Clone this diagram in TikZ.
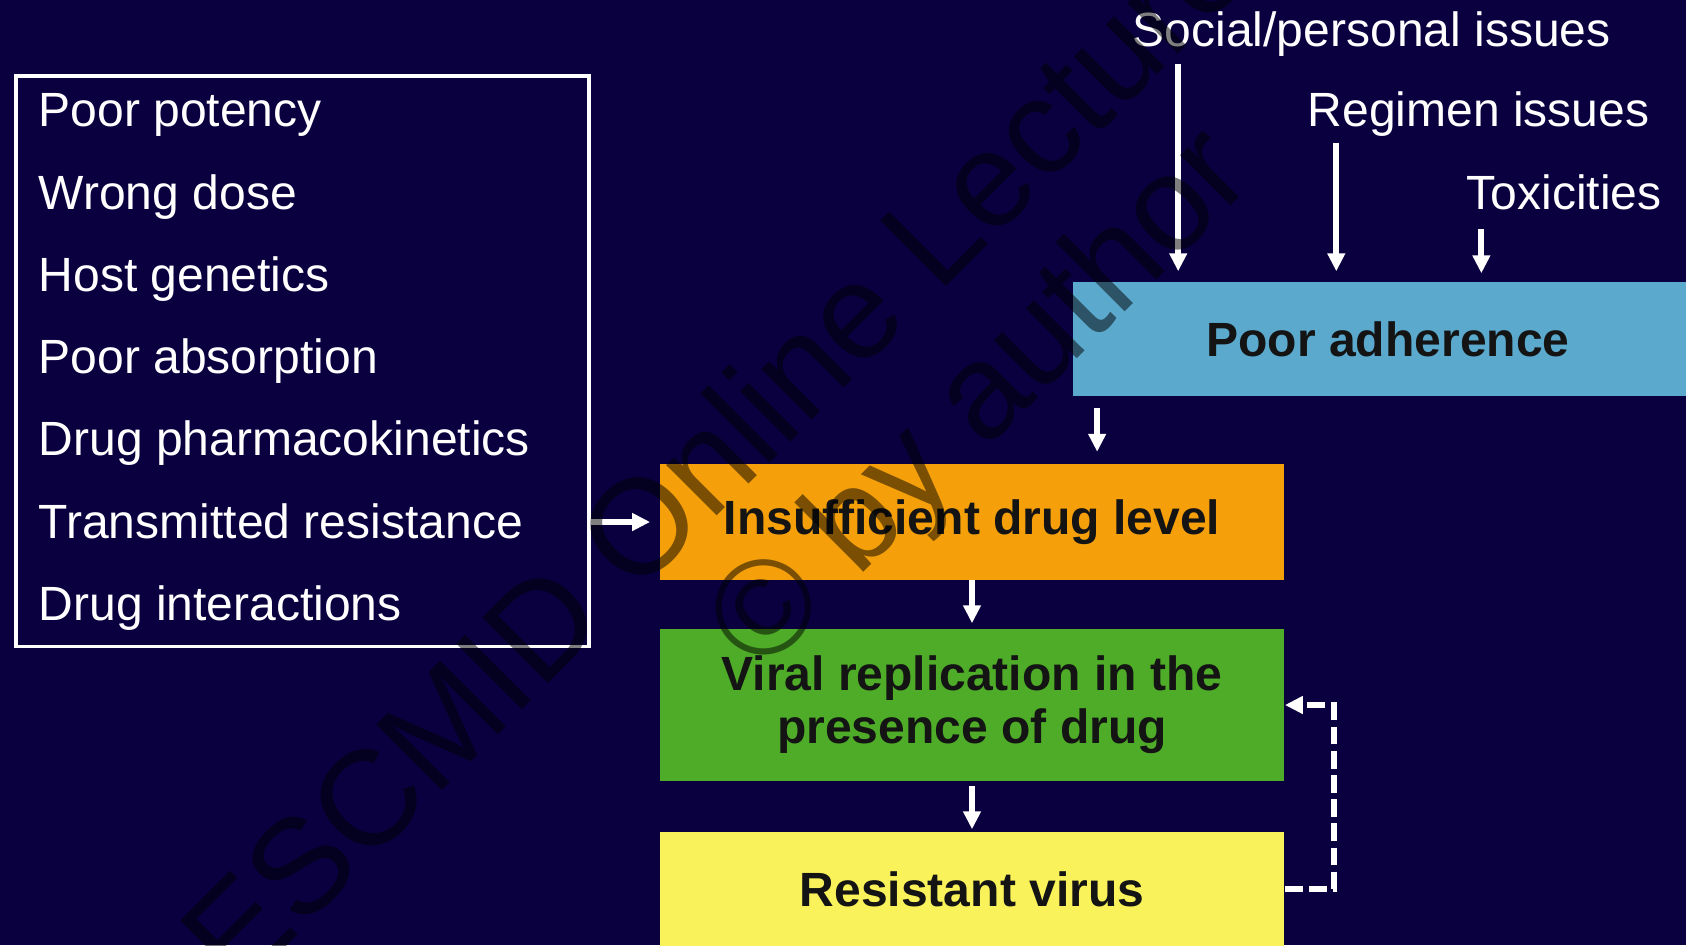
\documentclass[tikz,border=0pt]{standalone}
\usepackage{fontspec}
\setmainfont{Liberation Sans}
\usetikzlibrary{arrows.meta}

\definecolor{slidebg}{RGB}{10,0,64}
\definecolor{adhblue}{RGB}{91,170,206}
\definecolor{lvlorange}{RGB}{245,160,10}
\definecolor{repgreen}{RGB}{78,172,40}
\definecolor{resyellow}{RGB}{249,242,90}
\definecolor{ink}{RGB}{20,20,20}

\newcommand{\slidefont}{\fontsize{13.66pt}{15.1pt}\selectfont}
\newcommand{\markfont}{\fontsize{38.4pt}{41pt}\selectfont}

\tikzset{
  cause/.style={anchor=base west, inner sep=0pt, text=white, font=\slidefont},
  stage/.style={inner sep=0pt, minimum width=6.24cm, align=center, text=ink, font=\slidefont\bfseries},
  arr/.style={draw=white, line width=.06cm, -{Triangle[length=.18cm,width=.17cm]}},
}

\begin{document}
\begin{tikzpicture}[x=0.01cm,y=-0.01cm]
  \useasboundingbox (0,0) rectangle (1686,945);
  \clip (0,0) rectangle (1686,945);
  \fill[slidebg] (0,0) rectangle (1686,945);

  % causes of a low drug level
  \node[draw=white, line width=.035cm, minimum width=5.73cm, minimum height=5.705cm, inner sep=0pt] (causes) at (302.5,361.25) {};
  \node[cause] (c1) at (38,126.7) {Poor potency};
  \node[cause] (c2) at (38,209.0) {Wrong dose};
  \node[cause] (c3) at (38,291.3) {Host genetics};
  \node[cause] (c4) at (38,373.6) {Poor absorption};
  \node[cause] (c5) at (38,455.9) {Drug pharmacokinetics};
  \node[cause] (c6) at (38,538.2) {Transmitted resistance};
  \node[cause] (c7) at (38,620.5) {Drug interactions};

  % what drives poor adherence
  \node[cause] (social) at (1132,46.7) {Social/personal issues};
  \node[cause] (regimen) at (1307,126.7) {Regimen issues};
  \node[cause] (tox) at (1466,209) {Toxicities};

  % the chain
  \node[stage, fill=adhblue, minimum width=6.30cm, minimum height=1.14cm] (adh) at (1388,339) {Poor adherence};
  \node[stage, fill=lvlorange, minimum height=1.15cm] (ins) at (972,522) {Insufficient drug level};
  \node[stage, fill=repgreen, minimum height=1.52cm] (vir) at (972,705) {Viral replication in the\\presence of drug};
  \node[stage, fill=resyellow, minimum height=1.14cm] (res) at (972,889) {Resistant virus};

  \coordinate (t1) at ([xshift=1.06cm]adh.north west);
  \coordinate (t2) at ([xshift=2.64cm]adh.north west);
  \coordinate (t3) at ([xshift=4.09cm]adh.north west);
  \coordinate (a1) at ([xshift=.25cm]adh.south west);

  \draw[arr, shorten <=.07cm, shorten >=.1cm] (social.south -| t1) -- (t1);
  \draw[arr, shorten <=.06cm, shorten >=.1cm] (regimen.south -| t2) -- (t2);
  \draw[arr, shorten <=.19cm, shorten >=.08cm] (tox.south -| t3) -- (t3);
  \draw[arr, shorten <=.115cm, shorten >=.12cm] (a1) -- (a1 |- ins.north);
  \draw[arr, shorten >=.05cm] (ins) -- (vir);
  \draw[arr, shorten <=.04cm, shorten >=.02cm] (vir) -- (res);
  \draw[arr, shorten >=.09cm] (ins.west -| causes.east) -- (ins.west);
  \draw[arr, dash pattern=on .177cm off .065cm] (res.east) -| ([xshift=.49cm]vir.east) -- (vir.east);

  % watermark
  \node[rotate=45, align=center, font=\markfont, text=black, text opacity=.5] (mark) at (933,352) {ESCMID Online Lecture Library\\\textcopyright{} by author};
\end{tikzpicture}
\end{document}
